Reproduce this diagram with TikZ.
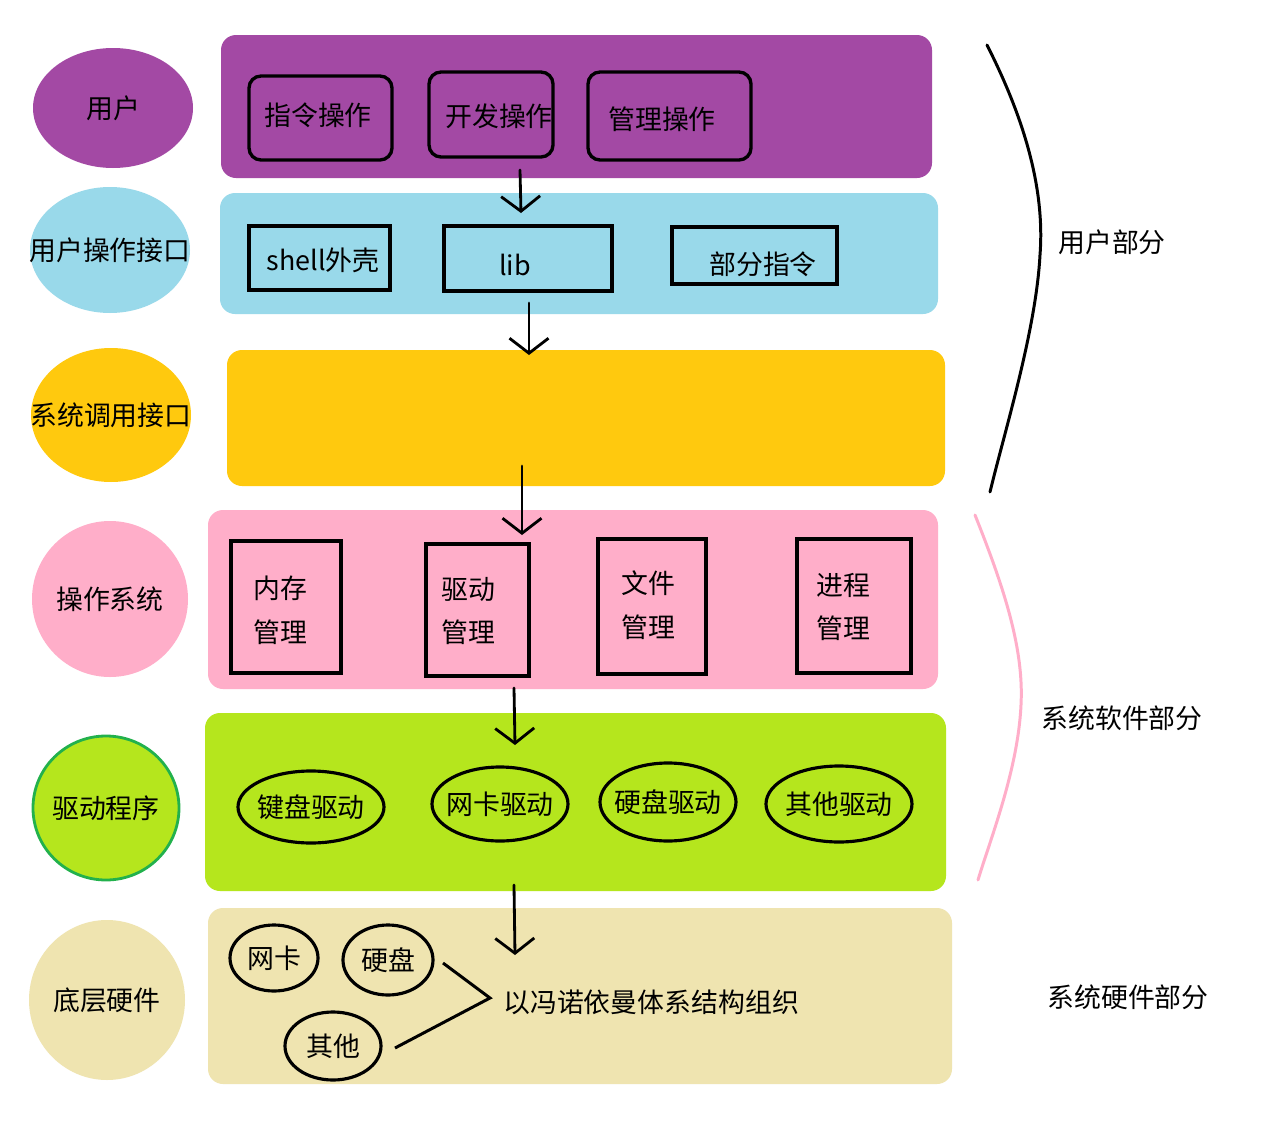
\documentclass[tikz,border=0pt]{standalone}
\usepackage{fontspec}
\setmainfont{Noto Sans CJK SC}
\usetikzlibrary{arrows.meta,shapes.geometric}
\definecolor{cPurple}{HTML}{A349A4}
\definecolor{cBlue}{HTML}{99D9EA}
\definecolor{cGold}{HTML}{FFC90E}
\definecolor{cPink}{HTML}{FFAEC9}
\definecolor{cGreen}{HTML}{B5E61D}
\definecolor{cDGreen}{HTML}{22B14C}
\definecolor{cTan}{HTML}{EFE4B0}
\newlength\pxu \pxu=0.02cm
\begin{document}
\begin{tikzpicture}[x=0.02cm,y=-0.02cm,
  every node/.style={font=\fontsize{15.3}{25}\selectfont, inner sep=0pt},
  every label/.style={font=\fontsize{15.3}{25}\selectfont, inner sep=0pt},
  band/.style={rounded corners=15\pxu, draw=none},
  side/.style={ellipse, draw=none},
  rbox/.style={draw=black, line width=1.9pt, rounded corners=12\pxu},
  sbox/.style={draw=black, line width=1.9pt, align=center},
  oval/.style={ellipse, draw=black, line width=1.8pt},
  flow/.style={line width=1.6pt, line cap=round, -{Straight Barb[length=0.3cm,width=0.78cm,line width=1.6pt]}},
  brace/.style={line width=1.7pt, line cap=round}
]
\path[use as bounding box, fill=white] (0,0) rectangle (1269,1136);

% bands
\node[band, fill=cPurple, minimum width=711\pxu, minimum height=143\pxu] (b1) at (576.5,106.5) {};
\node[band, fill=cBlue, minimum width=718\pxu, minimum height=121\pxu] (b2) at (579,253.5) {};
\node[band, fill=cGold, minimum width=718\pxu, minimum height=136\pxu] (b3) at (586,418) {};
\node[band, fill=cPink, minimum width=730\pxu, minimum height=179\pxu] (b4) at (573,599.5) {};
\node[band, fill=cGreen, minimum width=741\pxu, minimum height=178\pxu] (b5) at (575.5,802) {};
\node[band, fill=cTan, minimum width=744\pxu, minimum height=176\pxu] (b6) at (580,996) {};

% side ellipses
\node[side, fill=cPurple, minimum width=160\pxu, minimum height=120\pxu, label=center:用户] (s1) at (113,108) {};
\node[side, fill=cBlue, minimum width=160\pxu, minimum height=126\pxu, label=center:用户操作接口] (s2) at (110,250) {};
\node[side, fill=cGold, minimum width=160\pxu, minimum height=134\pxu, label=center:系统调用接口] (s3) at (111,415) {};
\node[side, fill=cPink, minimum width=156\pxu, minimum height=156\pxu, label=center:操作系统] (s4) at (110,599) {};
\node[side, draw=cDGreen, line width=1.6pt, fill=cGreen, minimum width=146\pxu, minimum height=144\pxu, label=center:驱动程序] (s5) at (106,808) {};
\node[side, fill=cTan, minimum width=156\pxu, minimum height=160\pxu, label=center:底层硬件] (s6) at (107,1000) {};

% user band
\node[rbox, minimum width=143\pxu, minimum height=84\pxu] (u1) at (320.5,118) {};
\node at (318,115) (u1t) {指令操作};
\node[rbox, minimum width=124\pxu, minimum height=85\pxu] (u2) at (491,114.5) {};
\node[anchor=west] at (445,116) (u2t) {开发操作};
\node[rbox, minimum width=163\pxu, minimum height=88\pxu] (u3) at (669.5,116) {};
\node at (662,119) (u3t) {管理操作};

% interface band
\node[sbox, minimum width=141\pxu, minimum height=64\pxu] (i1) at (319.5,258) {};
\node at (323,260) (i1t) {shell外壳};
\node[sbox, minimum width=168\pxu, minimum height=65\pxu] (i2) at (528,258.5) {};
\node at (515,265) (i2t) {lib};
\node[sbox, minimum width=165\pxu, minimum height=57\pxu] (i3) at (754.5,255.5) {};
\node at (763,264) (i3t) {部分指令};

% OS band
\node[sbox, minimum width=110\pxu, minimum height=132\pxu] (o1) at (286,607) {};
\node[align=center] at (280,610) (o1t) {内存\\管理};
\node[sbox, minimum width=103\pxu, minimum height=132\pxu] (o2) at (477.5,610) {};
\node[align=center] at (468,611) (o2t) {驱动\\管理};
\node[sbox, minimum width=108\pxu, minimum height=135\pxu] (o3) at (652,606.5) {};
\node[align=center] at (648,605) (o3t) {文件\\管理};
\node[sbox, minimum width=114\pxu, minimum height=134\pxu] (o4) at (854,606) {};
\node[align=center] at (843,607) (o4t) {进程\\管理};

% driver band
\node[oval, minimum width=146\pxu, minimum height=72\pxu, label=center:键盘驱动] (d1) at (311,807) {};
\node[oval, minimum width=136\pxu, minimum height=74\pxu, label=center:网卡驱动] (d2) at (500,804) {};
\node[oval, minimum width=136\pxu, minimum height=78\pxu, label=center:硬盘驱动] (d3) at (668,802) {};
\node[oval, minimum width=146\pxu, minimum height=76\pxu, label=center:其他驱动] (d4) at (839,804) {};

% hardware band
\node[oval, minimum width=88\pxu, minimum height=66\pxu, label=center:网卡] (h1) at (274,958) {};
\node[oval, minimum width=90\pxu, minimum height=70\pxu, label=center:硬盘] (h2) at (388,960) {};
\node[oval, minimum width=96\pxu, minimum height=68\pxu, label=center:其他] (h3) at (333,1046) {};
\node[anchor=west] (vn) at (503,1002) {以冯诺依曼体系结构组织};
\coordinate (hA) at (443,963);
\coordinate (hV) at (490,998);
\coordinate (hB) at (395,1048);
\draw[line width=1.7pt] (hA) -- (hV) -- (hB);

% flow arrows
\coordinate (a1s) at (520,170); \coordinate (a1e) at (521,213);
\coordinate (a2s) at (529,303); \coordinate (a2e) at (529,355);
\coordinate (a3s) at (522,466); \coordinate (a3e) at (522,535);
\coordinate (a4s) at (514,688); \coordinate (a4e) at (515,745);
\coordinate (a5s) at (514,885); \coordinate (a5e) at (515,955);
\draw[flow] (a1s) -- (a1e);
\draw[flow] (a2s) -- (a2e);
\draw[flow] (a3s) -- (a3e);
\draw[flow] (a4s) -- (a4e);
\draw[flow] (a5s) -- (a5e);

% braces
\coordinate (k1a) at (987,45); \coordinate (k1m) at (1040,255); \coordinate (k1b) at (990,492);
\draw[brace, black] (k1a) .. controls (1025,120) and (1045,190) .. (k1m)
  .. controls (1036,330) and (1005,430) .. (k1b);
\coordinate (k2a) at (975,515); \coordinate (k2m) at (1021,705); \coordinate (k2b) at (978,880);
\draw[brace, cPink] (k2a) .. controls (1005,590) and (1024,650) .. (k2m)
  .. controls (1018,770) and (990,840) .. (k2b);
\node (p1) at (1112,242) {用户部分};
\node (p2) at (1122,718) {系统软件部分};
\node (p3) at (1128,997) {系统硬件部分};
\end{tikzpicture}
\end{document}
